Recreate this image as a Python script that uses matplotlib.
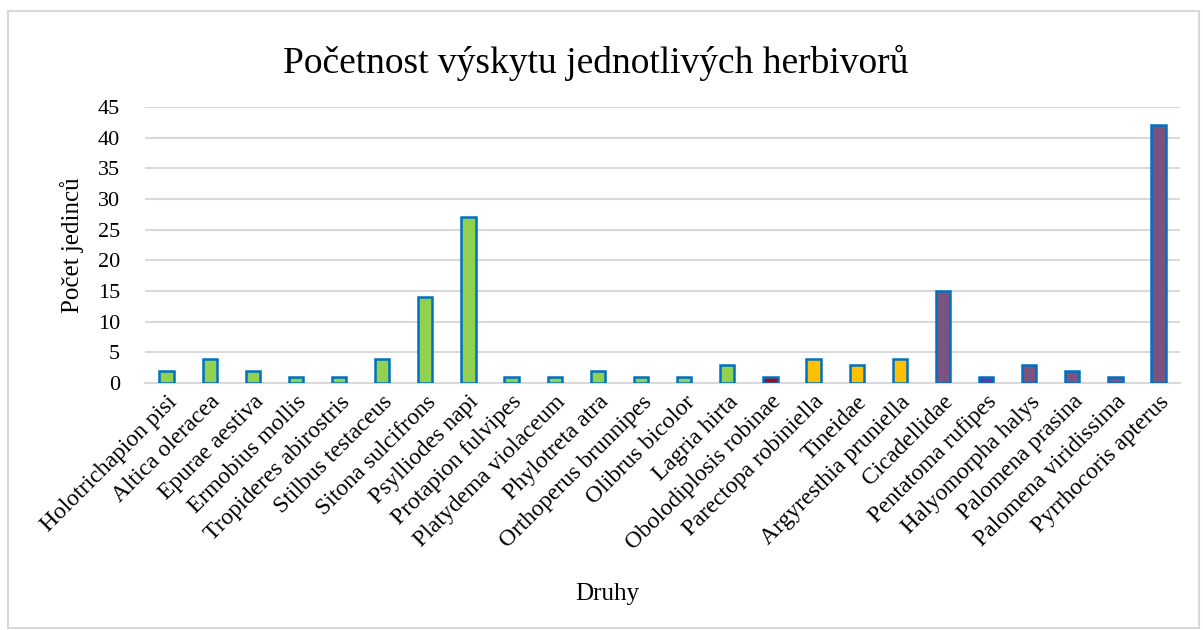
import matplotlib.pyplot as plt
from matplotlib.patches import Rectangle

species = [
    "Holotrichapion pisi", "Altica oleracea", "Epurae aestiva", "Ermobius mollis",
    "Tropideres abirostris", "Stilbus testaceus", "Sitona sulcifrons", "Psylliodes napi",
    "Protapion fulvipes", "Platydema violaceum", "Phylotreta atra", "Orthoperus brunnipes",
    "Olibrus bicolor", "Lagria hirta", "Obolodiplosis robinae", "Parectopa robiniella",
    "Tineidae", "Argyresthia pruniella", "Cicadellidae", "Pentatoma rufipes",
    "Halyomorpha halys", "Palomena prasina", "Palomena viridissima", "Pyrrhocoris apterus",
]
counts = [2, 4, 2, 1, 1, 4, 14, 27, 1, 1, 2, 1, 1, 3, 1, 4, 3, 4, 15, 1, 3, 2, 1, 42]
bar_colors = (["#92D050"] * 14 + ["#C00000"] + ["#FFC000"] * 3
              + ["#7A5380"] + ["#7030A0"] + ["#7A5380"] * 4)

plt.rcParams['font.family'] = ['Liberation Serif', 'DejaVu Serif']

fig = plt.figure(figsize=(12.03, 6.3), dpi=100)
fig.patches.append(Rectangle((0.007, 0.003), 0.99, 0.98, transform=fig.transFigure,
                             fill=False, edgecolor="#D9D9D9", linewidth=1.5))
ax = fig.add_axes([0.1205, 0.392, 0.8605, 0.438])

x = range(len(species))
ax.bar(x, counts, width=0.33, color=bar_colors, edgecolor="#0070C0", linewidth=1.8, zorder=3)

ax.set_ylim(0, 45)
ax.set_yticks(range(0, 46, 5))
ax.set_xlim(-0.5, len(species) - 0.5)
ax.set_xticks(list(x))
ax.set_xticklabels(species, rotation=45, ha="right", rotation_mode="anchor", fontsize=17)
ax.tick_params(axis="y", labelsize=16, length=0, pad=18)
ax.tick_params(axis="x", length=0, pad=6)
ax.grid(axis="y", color="#D9D9D9", linewidth=1.5, zorder=0)
for s in ["top", "right", "left"]:
    ax.spines[s].set_visible(False)
ax.spines["bottom"].set_color("#D9D9D9")
ax.spines["bottom"].set_linewidth(1.5)

ax.set_ylabel("Počet jedinců", fontsize=18, labelpad=10)
fig.text(0.505, 0.048, "Druhy", ha="center", fontsize=18)
fig.text(0.495, 0.9, "Početnost výskytu jednotlivých herbivorů", ha="center", va="center",
         fontsize=27)

fig.savefig("out.png", dpi=100)
